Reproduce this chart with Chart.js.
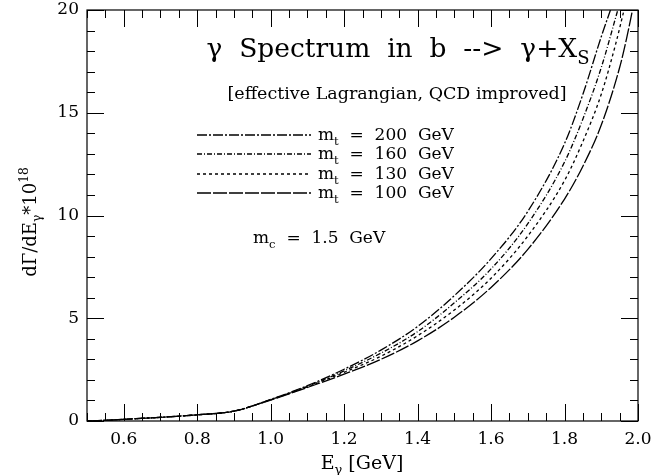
<!DOCTYPE html>
<html>
<head>
<meta charset="utf-8">
<script src="https://cdn.jsdelivr.net/npm/chart.js@4.4.1/dist/chart.umd.min.js"></script>
<style>
  html, body { margin: 0; padding: 0; background: #fff; }
  #wrap { width: 652px; height: 475px; }
</style>
</head>
<body>
<div id="wrap"><canvas id="chart" width="652" height="475"></canvas></div>
<script>
// ── data ──────────────────────────────────────────────────────────────────────

var energy = [0.50, 0.55, 0.60, 0.70, 0.80, 0.90, 1.00, 1.10, 1.20, 1.30, 1.40, 1.50, 1.60, 1.70, 1.80, 1.85, 1.90];

var mt200 = [0.00, 0.03, 0.08, 0.18, 0.30, 0.48, 1.05, 1.72, 2.52, 3.45, 4.60, 6.10, 7.90, 10.2, 13.5, 15.9, 18.7];
var mt160 = [0.00, 0.03, 0.08, 0.18, 0.30, 0.48, 1.04, 1.69, 2.44, 3.30, 4.35, 5.75, 7.40, 9.60, 12.6, 14.7, 17.2];
var mt130 = [0.00, 0.03, 0.08, 0.18, 0.30, 0.48, 1.03, 1.66, 2.37, 3.15, 4.15, 5.40, 6.95, 9.00, 11.7, 13.6, 15.9];
var mt100 = [0.00, 0.03, 0.08, 0.18, 0.30, 0.48, 1.02, 1.63, 2.28, 3.00, 3.90, 5.05, 6.50, 8.35, 10.8, 12.4, 14.4];

// steep ends, up to the top of the frame
var tail200E = [1.925];               var tail200 = [20.0];
var tail160E = [1.945];               var tail160 = [20.0];
var tail130E = [1.940, 1.962];        var tail130 = [18.4, 20.0];
var tail100E = [1.950, 1.970, 1.985]; var tail100 = [17.2, 18.7, 20.0];

var seriesLabels = ["200", "160", "130", "100"];
var xTickValues = [0.6, 0.8, 1.0, 1.2, 1.4, 1.6, 1.8, 2.0];

// ── helpers ───────────────────────────────────────────────────────────────────

var SERIF = "'DejaVu Serif', 'Liberation Serif', serif";

function points(xs, ys, tx, ty) {
  var allX = xs.concat(tx), allY = ys.concat(ty);
  return allX.map(function(x, i) { return { x: x, y: allY[i] }; });
}

// draws a run of pieces, some of them sub/superscript
function richText(ctx, parts, x, y, size) {
  var cx = x;
  parts.forEach(function(p) {
    var s = p.sub || p.sup ? size * 0.68 : size;
    ctx.font = s + "px " + SERIF;
    var dy = p.sub ? size * 0.28 : (p.sup ? -size * 0.42 : 0);
    ctx.fillText(p.t, cx, y + dy);
    cx += ctx.measureText(p.t).width;
  });
  return cx - x;
}

function richWidth(ctx, parts, size) {
  var w = 0;
  parts.forEach(function(p) {
    var s = p.sub || p.sup ? size * 0.68 : size;
    ctx.font = s + "px " + SERIF;
    w += ctx.measureText(p.t).width;
  });
  return w;
}

// ── plugin: frame, inward ticks, texts, legend ────────────────────────────────

var framePlugin = {
  id: "frame",
  afterDraw: function(chart) {
    var ctx = chart.ctx, a = chart.chartArea;
    var xs = chart.scales.x, ys = chart.scales.y;
    ctx.save();
    ctx.strokeStyle = "#000";
    ctx.fillStyle = "#000";
    ctx.lineWidth = 1.2;
    ctx.setLineDash([]);
    ctx.strokeRect(a.left, a.top, a.right - a.left, a.bottom - a.top);

    // x ticks every 0.05, majors every 0.2
    ctx.lineWidth = 1;
    ctx.beginPath();
    for (var i = 10; i <= 40; i++) {
      var v = i * 0.05;
      var px = Math.round(xs.getPixelForValue(v)) + 0.5;
      var major = (i % 4 === 0);
      var len = major ? 17 : 8;
      ctx.moveTo(px, a.bottom); ctx.lineTo(px, a.bottom - len);
      ctx.moveTo(px, a.top);    ctx.lineTo(px, a.top + len);
    }
    // y ticks every 1, majors every 5
    for (var j = 0; j <= 20; j++) {
      var py = Math.round(ys.getPixelForValue(j)) + 0.5;
      var l2 = (j % 5 === 0) ? 17 : 8;
      ctx.moveTo(a.left, py);  ctx.lineTo(a.left + l2, py);
      ctx.moveTo(a.right, py); ctx.lineTo(a.right - l2, py);
    }
    ctx.stroke();

    // title
    ctx.textBaseline = "alphabetic";
    ctx.textAlign = "left";
    var title = [{ t: "\u03b3  Spectrum  in  b  -->  \u03b3+X" }, { t: "S", sub: true }];
    var tw = richWidth(ctx, title, 26.5);
    richText(ctx, title, 398 - tw / 2, 57, 26.5);

    ctx.font = "17.5px " + SERIF;
    ctx.textAlign = "center";
    ctx.fillText("[effective Lagrangian, QCD improved]", 397, 99);
    ctx.textAlign = "left";

    // legend
    var rowY = [135, 154, 174, 193];
    chart.data.datasets.forEach(function(ds, k) {
      ctx.strokeStyle = ds.borderColor;
      ctx.lineWidth = ds.borderWidth;
      ctx.setLineDash(ds.borderDash);
      ctx.beginPath();
      ctx.moveTo(197, rowY[k]); ctx.lineTo(311, rowY[k]);
      ctx.stroke();
      ctx.setLineDash([]);
      richText(ctx, [{ t: "m" }, { t: "t", sub: true }, { t: "  =  " + seriesLabels[k] + "  GeV" }], 318, rowY[k] + 5, 17);
    });

    richText(ctx, [{ t: "m" }, { t: "c", sub: true }, { t: "  =  1.5  GeV" }], 253, 243, 17);

    // axis titles
    var xt = [{ t: "E" }, { t: "\u03b3", sub: true }, { t: " [GeV]" }];
    var xw = richWidth(ctx, xt, 19);
    richText(ctx, xt, 362 - xw / 2, 469, 19);

    ctx.translate(36, 222);
    ctx.rotate(-Math.PI / 2);
    var yt = [{ t: "d\u0393/dE" }, { t: "\u03b3", sub: true }, { t: "*10" }, { t: "18", sup: true }];
    var yw = richWidth(ctx, yt, 18);
    richText(ctx, yt, -yw / 2, 0, 18);

    ctx.restore();
  }
};

// ── chart ─────────────────────────────────────────────────────────────────────

function lineSet(label, data, dash) {
  return {
    label: label,
    data: data,
    showLine: true,
    borderColor: "#000",
    backgroundColor: "#000",
    borderWidth: 1.3,
    borderDash: dash,
    pointRadius: 0,
    cubicInterpolationMode: "monotone",
    fill: false
  };
}

var ctx = document.getElementById("chart").getContext("2d");
var chart = new Chart(ctx, {
  type: "scatter",
  data: {
    datasets: [
      lineSet("m_t = 200 GeV", points(energy, mt200, tail200E, tail200), [10, 2, 2, 2]),
      lineSet("m_t = 160 GeV", points(energy, mt160, tail160E, tail160), [5, 2, 1, 2]),
      lineSet("m_t = 130 GeV", points(energy, mt130, tail130E, tail130), [3, 3]),
      lineSet("m_t = 100 GeV", points(energy, mt100, tail100E, tail100), [14, 2])
    ]
  },
  options: {
    responsive: false,
    animation: false,
    events: [],
    layout: { padding: { top: 10, right: 14, left: 0, bottom: 0 } },
    plugins: {
      legend: { display: false },
      tooltip: { enabled: false }
    },
    scales: {
      x: {
        type: "linear",
        min: 0.5,
        max: 2.0,
        afterBuildTicks: function(scale) {
          scale.ticks = xTickValues.map(function(v) { return { value: v }; });
        },
        afterFit: function(scale) {
          scale.height = 54;
          scale.paddingLeft = 0;
          scale.paddingRight = 0;
        },
        grid: { display: false, drawTicks: false },
        border: { display: false },
        ticks: {
          color: "#000",
          padding: 8,
          maxRotation: 0,
          autoSkip: false,
          font: { family: SERIF, size: 17 },
          callback: function(v) { return Number(v).toFixed(1); }
        }
      },
      y: {
        type: "linear",
        min: 0,
        max: 20,
        afterFit: function(scale) {
          scale.width = 87;
          scale.paddingTop = 0;
          scale.paddingBottom = 0;
        },
        grid: { display: false, drawTicks: false },
        border: { display: false },
        ticks: {
          color: "#000",
          padding: 8,
          stepSize: 5,
          font: { family: SERIF, size: 17 }
        }
      }
    }
  },
  plugins: [framePlugin]
});
</script>
</body>
</html>
